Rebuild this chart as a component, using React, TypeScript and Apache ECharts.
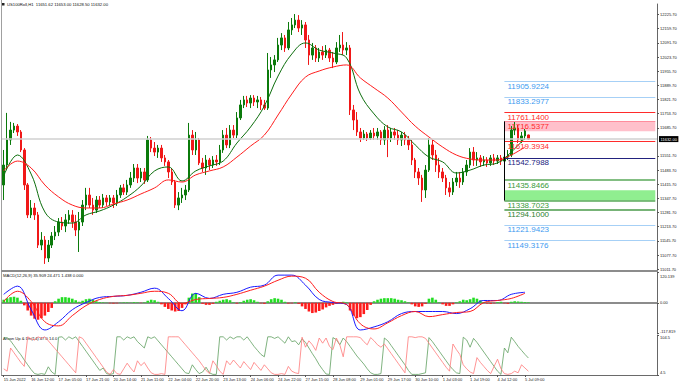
import React, { useEffect, useRef } from 'react';
import * as echarts from 'echarts';

const TITLE = 'US100Roll,H1  11651.62 11653.00 11628.50 11632.00';
const MACD_TITLE = 'MACD(12,26,9) 35.909 24.471 1.438 0.000';
const AROON_TITLE = 'Aroon Up & Dn(14) 47.0 14.0';

const X_LABELS = [
  '15 Jun 2022', '16 Jun 12:00', '17 Jun 05:00', '17 Jun 21:00', '20 Jun 14:00',
  '21 Jun 11:00', '22 Jun 04:00', '22 Jun 20:00', '23 Jun 13:00', '24 Jun 06:00',
  '24 Jun 22:00', '27 Jun 15:00', '28 Jun 08:00', '29 Jun 01:00', '29 Jun 17:00',
  '30 Jun 10:00', '1 Jul 03:00', '1 Jul 19:00', '4 Jul 12:00', '5 Jul 09:00',
];
const BARS_PER_LABEL = 8;
const TOTAL_SLOTS = 191;

const PRICE_TICKS = [12225.7, 12159.7, 12091.7, 12023.7, 11955.7, 11889.7, 11821.7, 11753.7, 11685.7,
  11551.7, 11483.7, 11415.7, 11347.7, 11281.7, 11213.7, 11145.7, 11077.7, 11011.7];
const PRICE_MIN = 11002.2;
const PRICE_MAX = 12276.9;
const MACD_TICKS = [120.139, 0, -117.819];
const AROON_TICKS = [104.5, 4.5];
const CURRENT_PRICE = 11632.0;

// [open, close, low, high]
const CANDLES = [
  [11413, 11508, 11341, 11580], [11508, 11628, 11484, 11757], [11628, 11675, 11604, 11714], [11675, 11694, 11661, 11709],
  [11694, 11666, 11647, 11704], [11666, 11580, 11570, 11675], [11580, 11413, 11389, 11589], [11413, 11270, 11255, 11422],
  [11270, 11303, 11255, 11341], [11303, 11270, 11246, 11327], [11270, 11126, 11112, 11284], [11126, 11150, 11102, 11188],
  [11150, 11064, 11036, 11169], [11064, 11126, 11045, 11150], [11126, 11169, 11112, 11188], [11169, 11188, 11150, 11217],
  [11188, 11236, 11169, 11255], [11236, 11217, 11198, 11260], [11217, 11246, 11188, 11274], [11246, 11270, 11227, 11293],
  [11270, 11236, 11208, 11293], [11236, 11198, 11169, 11270], [11198, 11236, 11093, 11284], [11236, 11317, 11217, 11341],
  [11317, 11365, 11293, 11399], [11365, 11317, 11303, 11399], [11317, 11293, 11270, 11351], [11293, 11341, 11279, 11360],
  [11341, 11317, 11303, 11360], [11317, 11351, 11303, 11370], [11351, 11332, 11313, 11365], [11332, 11351, 11313, 11365],
  [11351, 11327, 11303, 11365], [11327, 11365, 11313, 11389], [11365, 11399, 11351, 11413], [11399, 11379, 11365, 11418],
  [11379, 11413, 11365, 11437], [11413, 11446, 11399, 11475], [11446, 11494, 11427, 11513], [11494, 11446, 11422, 11513],
  [11446, 11475, 11427, 11494], [11475, 11437, 11418, 11494], [11437, 11628, 11427, 11647], [11628, 11589, 11570, 11642],
  [11589, 11570, 11551, 11618], [11570, 11589, 11542, 11604], [11589, 11542, 11523, 11604], [11542, 11523, 11504, 11556],
  [11523, 11475, 11446, 11532], [11475, 11427, 11413, 11494], [11427, 11317, 11303, 11437], [11317, 11351, 11293, 11379],
  [11351, 11365, 11327, 11399], [11365, 11389, 11341, 11413], [11389, 11651, 11379, 11709], [11651, 11580, 11556, 11675],
  [11580, 11628, 11556, 11666], [11628, 11518, 11508, 11637], [11518, 11494, 11475, 11542], [11494, 11532, 11461, 11556],
  [11532, 11508, 11484, 11542], [11508, 11532, 11494, 11551], [11532, 11523, 11504, 11556], [11523, 11580, 11508, 11604],
  [11580, 11651, 11566, 11675], [11651, 11604, 11589, 11685], [11604, 11675, 11589, 11699], [11675, 11651, 11637, 11699],
  [11651, 11733, 11637, 11761], [11733, 11795, 11723, 11819], [11795, 11819, 11780, 11838], [11819, 11804, 11785, 11838],
  [11804, 11828, 11780, 11842], [11828, 11809, 11790, 11842], [11809, 11819, 11780, 11838], [11819, 11795, 11771, 11833],
  [11795, 11780, 11771, 11819], [11780, 11962, 11771, 12043], [11962, 11986, 11924, 12024], [11986, 12010, 11952, 12033],
  [12010, 12081, 12000, 12115], [12081, 12115, 12057, 12138], [12115, 12067, 12048, 12129], [12067, 12153, 12057, 12191],
  [12153, 12177, 12129, 12210], [12177, 12200, 12162, 12229], [12200, 12162, 12143, 12224], [12162, 12177, 12129, 12200],
  [12177, 12105, 12067, 12191], [12105, 12033, 11986, 12129], [12033, 12067, 12010, 12091], [12067, 12019, 12000, 12081],
  [12019, 12048, 12000, 12067], [12048, 12033, 12010, 12076], [12033, 12057, 12019, 12081], [12057, 12019, 12000, 12067],
  [12019, 12000, 11971, 12048], [12000, 12067, 11990, 12095], [12067, 12081, 12048, 12129], [12081, 12057, 12033, 12143],
  [12057, 12067, 12033, 12095], [12067, 11771, 11747, 12081], [11771, 11723, 11675, 11795], [11723, 11666, 11647, 11761],
  [11666, 11637, 11618, 11685], [11637, 11656, 11628, 11675], [11656, 11637, 11623, 11666], [11637, 11661, 11628, 11675],
  [11661, 11647, 11628, 11685], [11647, 11666, 11628, 11685], [11666, 11628, 11604, 11675], [11628, 11675, 11604, 11694],
  [11675, 11637, 11546, 11699], [11637, 11666, 11618, 11685], [11666, 11651, 11628, 11685], [11651, 11628, 11604, 11675],
  [11628, 11651, 11599, 11666], [11651, 11628, 11604, 11666], [11628, 11604, 11580, 11647], [11604, 11532, 11508, 11628],
  [11532, 11475, 11446, 11542], [11475, 11446, 11413, 11494], [11446, 11389, 11332, 11461], [11389, 11484, 11351, 11508],
  [11484, 11604, 11475, 11637], [11604, 11556, 11532, 11628], [11556, 11508, 11475, 11580], [11508, 11475, 11446, 11542],
  [11475, 11446, 11427, 11494], [11446, 11399, 11365, 11461], [11399, 11379, 11356, 11427], [11379, 11427, 11365, 11446],
  [11427, 11446, 11408, 11475], [11446, 11427, 11399, 11475], [11427, 11475, 11413, 11494], [11475, 11508, 11456, 11532],
  [11508, 11570, 11494, 11589], [11570, 11532, 11504, 11594], [11532, 11542, 11504, 11570], [11542, 11523, 11499, 11556],
  [11523, 11532, 11504, 11551], [11532, 11518, 11499, 11546], [11518, 11542, 11504, 11556], [11542, 11527, 11508, 11561],
  [11527, 11542, 11513, 11556], [11542, 11527, 11508, 11556], [11527, 11546, 11513, 11566], [11546, 11556, 11532, 11580],
  [11556, 11675, 11546, 11694], [11675, 11685, 11651, 11714], [11685, 11628, 11613, 11699], [11628, 11647, 11613, 11666],
  [11647, 11671, 11628, 11680], [11651.62, 11632, 11628.5, 11653],
];

// moving averages sampled every MA_STEP bars
const MA_STEP = 4;
const MA_FAST = [11456, 11556, 11465, 11284, 11236, 11231, 11270, 11289, 11317, 11356, 11408, 11480, 11499,
  11432, 11480, 11504, 11527, 11613, 11690, 11790, 11933, 12038, 12091, 12057, 12043, 12019, 11847, 11752,
  11690, 11666, 11604, 11546, 11523, 11470, 11484, 11508, 11518, 11570, 11637];
const MA_SLOW = [11480, 11527, 11494, 11413, 11356, 11317, 11303, 11303, 11322, 11341, 11370, 11399, 11437,
  11427, 11461, 11480, 11499, 11546, 11599, 11651, 11747, 11847, 11928, 11957, 11976, 11986, 11924, 11876,
  11828, 11761, 11694, 11642, 11594, 11556, 11537, 11532, 11532, 11556, 11594];

const MACD_HIST = [
  12, 18, 22, 24, 20, 8, -10, -30, -50, -62,
  -66, -60, -50, -36, -20, 6, 16, 22, 22, 20,
  16, 10, 4, 8, 14, 16, 12, 6, 3, 2,
  1, -2, -3, -2, 1, 2, 2, 1, 3, 2,
  -1, 2, 8, 12, 10, 4, -6, -16, -24, -30,
  -34, -32, -20, -6, 20, 36, 38, 22, -4, -8,
  -8, -4, 4, 8, 12, 14, 10, 2, -3, 3,
  8, 12, 14, 10, 4, -2, -4, 6, 14, 18,
  16, 12, 4, -3, -2, 2, -4, -14, -24, -34,
  -40, -38, -32, -26, -18, -12, -8, -4, 3, 4,
  2, -30, -50, -60, -56, -44, -28, -8, 6, 12,
  16, 18, 18, 18, 16, 12, 10, 6, 2, -6,
  -14, -16, -14, -4, 16, 20, 12, 2, -6, -12,
  -12, -6, 2, 6, 12, 10, 14, 20, 16, 10,
  3, -3, -4, -2, 3, 4, -2, -4, 4, 6,
  5, 4, 3, 2,
];
const MACD_MAIN = [33, 65, -27, -106, -74, -27, 1, 21, 25, 29, 41, 57, 17, -31, 37, 17, 33, 41, 61, 69,
  108, 108, 69, 13, 1, -7, -106, -94, -74, -42, -34, -34, -34, -42, -23, 9, 9, 33, 41];
const MACD_SIGNAL = [5, 45, 5, -74, -90, -50, -11, 13, 25, 29, 37, 45, 37, -3, 13, 17, 21, 33, 49, 65,
  88, 104, 96, 41, 5, -7, -82, -102, -78, -50, -34, -54, -46, -38, -34, 1, 9, 17, 37];

const AROON_UP = [
  97, 98, 90, 78, 66, 55, 42, 30, 18, 8, 6, 8, 6, 25, 12, 6, 99, 100, 92, 100,
  95, 100, 88, 76, 64, 52, 40, 28, 16, 22, 8, 6, 8, 100, 100, 92, 100, 96, 100, 88,
  80, 72, 100, 96, 100, 90, 80, 70, 60, 50, 40, 30, 20, 10, 8, 30, 18, 8, 12, 24,
  10, 6, 6, 100, 100, 92, 100, 95, 100, 100, 92, 100, 88, 76, 66, 56, 50, 100, 100, 96,
  100, 92, 84, 100, 88, 90, 80, 95, 86, 72, 58, 45, 30, 18, 7, 6, 98, 93, 80, 97,
  88, 76, 64, 52, 42, 32, 20, 10, 6, 6, 8, 97, 90, 78, 66, 54, 42, 30, 16, 6,
  6, 6, 8, 10, 98, 88, 76, 64, 52, 40, 28, 18, 10, 8, 99, 92, 74, 96, 86, 74,
  62, 50, 38, 26, 14, 6, 72, 60, 99, 88, 76, 66, 56, 47,
];
const AROON_DOWN = [
  20, 14, 72, 60, 48, 36, 26, 100, 95, 92, 100, 96, 100, 90, 80, 70, 60, 50, 40, 30,
  20, 10, 100, 96, 84, 72, 60, 48, 36, 24, 12, 6, 18, 8, 6, 20, 34, 22, 12, 40,
  28, 36, 22, 10, 6, 6, 8, 6, 100, 100, 100, 100, 90, 80, 70, 60, 50, 40, 28, 16,
  8, 40, 28, 14, 6, 40, 30, 42, 32, 22, 38, 28, 18, 36, 26, 16, 30, 20, 10, 6,
  6, 8, 6, 26, 14, 10, 8, 99, 74, 90, 80, 66, 97, 84, 97, 76, 68, 97, 80, 50,
  100, 100, 100, 100, 98, 88, 80, 98, 90, 80, 74, 82, 70, 58, 46, 34, 22, 10, 100, 100,
  98, 100, 100, 96, 84, 72, 60, 48, 36, 24, 14, 82, 68, 56, 30, 20, 12, 8, 48, 36,
  26, 16, 8, 26, 44, 20, 8, 6, 8, 14, 10, 30, 22, 14,
];

// horizontal levels drawn from bar LEVEL_START to the right edge
const LEVEL_START = 146;
const LEVEL_PRICES = [11905.9224, 11833.2977, 11761.14, 11716.5377, 11619.3934, 11542.7988,
  11435.8466, 11338.7023, 11294.1, 11221.9423, 11149.3176];
const LEVEL_KINDS = ['target', 'target', 'resistance', 'zoneTop', 'resistance', 'pivot',
  'support', 'support', 'support2', 'target', 'target'];
const ZONES = [[11716.5377, 11669], [11388, 11338.7023]];
const ZONE_KINDS = ['sell', 'buy'];
const BOX_RANGE = [11716.5377, 11338.7023];

const FONT = 'Liberation Sans, Arial, sans-serif';

const LEVEL_STYLE: Record<string, { line: string; width: number; text: string }> = {
  target: { line: '#a6d0f6', width: 1, text: '#3d9bf0' },
  resistance: { line: '#ff2b2b', width: 1, text: '#ff2b2b' },
  zoneTop: { line: '#ff8c9c', width: 1, text: '#ff2b2b' },
  pivot: { line: '#22227e', width: 1, text: '#22227e' },
  support: { line: '#5aa85a', width: 1.5, text: '#3a9a3a' },
  support2: { line: '#4a9a4a', width: 1.5, text: '#2f7f2f' },
};
const ZONE_COLOR: Record<string, string> = { sell: '#ffc0cb', buy: '#90ee90' };

// vertical nudges for the edge labels of the indicator panes
const EDGE_RICH = {
  down4: { fontSize: 4, padding: [8, 0, 0, 0], color: '#222', fontFamily: FONT },
  down2: { fontSize: 4, padding: [5, 0, 0, 0], color: '#222', fontFamily: FONT },
  up1: { fontSize: 4, padding: [0, 0, 3, 0], color: '#222', fontFamily: FONT },
  up3: { fontSize: 4, padding: [0, 0, 6, 0], color: '#222', fontFamily: FONT },
};

export default function App() {
  const ref = useRef<HTMLDivElement>(null);

  useEffect(() => {
    if (!ref.current) return;
    const chart = echarts.init(ref.current, null, { renderer: 'svg' });
    const lastSlot = TOTAL_SLOTS - 1;
    const cats = Array.from({ length: TOTAL_SLOTS }, (_, i) => String(i));
    const isLabel = (i: number) => i % BARS_PER_LABEL === 0 && i / BARS_PER_LABEL < X_LABELS.length;
    const sampled = (arr: number[]) => arr.map((v, i) => [i * MA_STEP, v]);

    const xAxes = [0, 1, 2].map((gi) => ({
      type: 'category',
      gridIndex: gi,
      data: cats,
      boundaryGap: true,
      axisLine: { show: true, lineStyle: { color: gi < 2 ? '#8c8c8c' : '#6a6a6a', width: gi < 2 ? 2 : 1 } },
      axisTick: {
        show: gi === 2,
        interval: (i: number) => isLabel(i),
        alignWithLabel: true,
        length: 2,
        lineStyle: { color: '#555' },
      },
      axisLabel: {
        show: gi === 2,
        interval: (i: number) => isLabel(i),
        formatter: (_v: string, i: number) => (isLabel(i) ? X_LABELS[i / BARS_PER_LABEL] : ''),
        align: 'left',
        fontSize: 4,
        margin: 2,
        color: '#222',
        fontFamily: FONT,
      },
      splitLine: { show: false },
    }));

    const yCommon = {
      type: 'value',
      position: 'right',
      splitLine: { show: false },
      axisLine: { show: true, lineStyle: { color: '#666', width: 1 } },
    };

    const levelLines = LEVEL_PRICES.map((p, i) => {
      const st = LEVEL_STYLE[LEVEL_KINDS[i]];
      return [
        {
          coord: [LEVEL_START, p],
          lineStyle: { color: st.line, width: st.width, type: 'solid' },
          label: {
            show: true,
            position: 'insideStartBottom',
            formatter: p.toFixed(4),
            color: st.text,
            fontSize: 8,
            fontFamily: FONT,
            distance: [3, 1],
          },
        },
        { coord: [lastSlot, p] },
      ];
    });

    const macdLabel = (v: number) => {
      if (v === MACD_TICKS[0]) return `{down4|${v.toFixed(3)}}`;
      if (v === MACD_TICKS[2]) return `{up1|${v.toFixed(3)}}`;
      return v.toFixed(2);
    };
    const aroonLabel = (v: number) => {
      if (v === AROON_TICKS[0]) return `{down2|${v.toFixed(1)}}`;
      return `{up3|${v.toFixed(1)}}`;
    };

    const option = {
      animation: false,
      backgroundColor: '#ffffff',
      textStyle: { fontFamily: FONT },
      grid: [
        { left: 2, right: 23, top: 4, height: 267 },
        { left: 2, right: 23, top: 272, height: 61 },
        { left: 2, right: 23, top: 335, height: 40 },
      ],
      xAxis: xAxes,
      yAxis: [
        {
          ...yCommon,
          gridIndex: 0,
          min: PRICE_MIN,
          max: PRICE_MAX,
          axisTick: { show: true, length: 2, customValues: PRICE_TICKS, lineStyle: { color: '#555' } },
          axisLabel: {
            customValues: PRICE_TICKS,
            formatter: (v: number) => v.toFixed(2),
            fontSize: 4,
            margin: 3,
            color: '#222',
            fontFamily: FONT,
          },
        },
        {
          ...yCommon,
          gridIndex: 1,
          min: MACD_TICKS[2],
          max: MACD_TICKS[0],
          axisTick: { show: true, length: 2, customValues: MACD_TICKS, lineStyle: { color: '#555' } },
          axisLabel: {
            customValues: MACD_TICKS,
            formatter: macdLabel,
            fontSize: 4,
            margin: 3,
            color: '#222',
            fontFamily: FONT,
            rich: EDGE_RICH,
          },
        },
        {
          ...yCommon,
          gridIndex: 2,
          min: AROON_TICKS[1],
          max: AROON_TICKS[0],
          axisTick: { show: true, length: 2, customValues: AROON_TICKS, lineStyle: { color: '#555' } },
          axisLabel: {
            customValues: AROON_TICKS,
            formatter: aroonLabel,
            fontSize: 4,
            margin: 3,
            color: '#222',
            fontFamily: FONT,
            rich: EDGE_RICH,
          },
        },
      ],
      graphic: [
        { type: 'line', shape: { x1: 1.5, y1: 0, x2: 1.5, y2: 376 }, style: { stroke: '#a0a0a0', lineWidth: 1 }, silent: true },
        { type: 'rect', shape: { x: 2, y: 3, width: 2.5, height: 2.5 }, style: { fill: '#222' }, silent: true },
        { type: 'text', x: 7, y: 2.6, style: { text: TITLE, fontSize: 4.2, fill: '#111', font: `4.2px ${FONT}` }, silent: true },
        { type: 'text', x: 3, y: 273.5, style: { text: MACD_TITLE, fontSize: 4.2, fill: '#111', font: `4.2px ${FONT}` }, silent: true },
        { type: 'text', x: 3, y: 336.4, style: { text: AROON_TITLE, fontSize: 4.2, fill: '#111', font: `4.2px ${FONT}` }, silent: true },
      ],
      series: [
        {
          type: 'candlestick',
          xAxisIndex: 0,
          yAxisIndex: 0,
          data: CANDLES,
          barWidth: 2,
          silent: true,
          itemStyle: {
            color: '#0b7a0b',
            color0: '#f01818',
            borderColor: '#0b7a0b',
            borderColor0: '#f01818',
            borderWidth: 1,
          },
          markArea: {
            silent: true,
            data: ZONES.map((z, i) => [
              { coord: [LEVEL_START, z[0]], itemStyle: { color: ZONE_COLOR[ZONE_KINDS[i]], opacity: 1 } },
              { coord: [lastSlot, z[1]] },
            ]),
          },
          markLine: {
            silent: true,
            symbol: ['none', 'none'],
            data: [
              {
                yAxis: CURRENT_PRICE,
                lineStyle: { color: '#d0d0d0', width: 1.5, type: 'solid' },
                label: {
                  show: true,
                  position: 'end',
                  formatter: CURRENT_PRICE.toFixed(2),
                  color: '#fff',
                  backgroundColor: '#000',
                  fontSize: 4,
                  padding: [1, 1.5],
                  distance: 2,
                  fontFamily: FONT,
                },
              },
              ...levelLines,
              [
                { coord: [LEVEL_START, BOX_RANGE[0]], lineStyle: { color: '#000', width: 1, type: 'solid' }, label: { show: false } },
                { coord: [LEVEL_START, BOX_RANGE[1]] },
              ],
            ],
          },
        },
        {
          type: 'line', xAxisIndex: 0, yAxisIndex: 0, data: sampled(MA_FAST), smooth: 0.4,
          symbol: 'none', silent: true, lineStyle: { color: '#0d6e0d', width: 1 },
        },
        {
          type: 'line', xAxisIndex: 0, yAxisIndex: 0, data: sampled(MA_SLOW), smooth: 0.4,
          symbol: 'none', silent: true, lineStyle: { color: '#ff1c1c', width: 1 },
        },
        {
          type: 'bar', xAxisIndex: 1, yAxisIndex: 1, barWidth: 2.6, silent: true,
          data: MACD_HIST.map((v) => ({ value: v, itemStyle: { color: v >= 0 ? '#22dd22' : '#ff1c1c' } })),
        },
        {
          type: 'line', xAxisIndex: 1, yAxisIndex: 1, data: sampled(MACD_MAIN), smooth: 0.4,
          symbol: 'none', silent: true, lineStyle: { color: '#1a1aff', width: 1 },
        },
        {
          type: 'line', xAxisIndex: 1, yAxisIndex: 1, data: sampled(MACD_SIGNAL), smooth: 0.4,
          symbol: 'none', silent: true, lineStyle: { color: '#ff1c1c', width: 1 },
        },
        {
          type: 'line', xAxisIndex: 2, yAxisIndex: 2, data: AROON_UP,
          symbol: 'none', silent: true, lineStyle: { color: '#5f9f5f', width: 0.8 },
        },
        {
          type: 'line', xAxisIndex: 2, yAxisIndex: 2, data: AROON_DOWN,
          symbol: 'none', silent: true, lineStyle: { color: '#ff7a7a', width: 0.8 },
        },
      ],
    };

    chart.setOption(option as any);
    return () => chart.dispose();
  }, []);

  return (
    <div
      ref={ref}
      style={{ position: 'fixed', left: 0, top: 0, width: 680, height: 385, background: '#fff' }}
    />
  );
}
